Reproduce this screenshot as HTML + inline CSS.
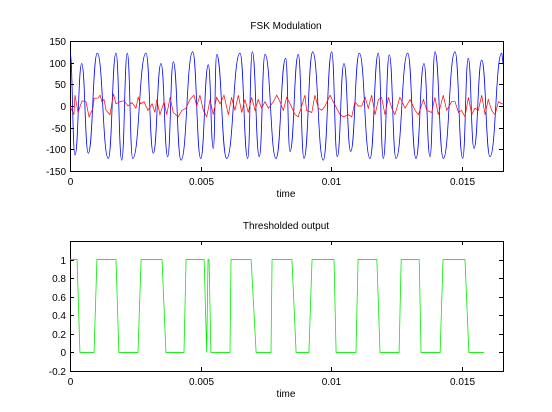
<!DOCTYPE html>
<html><head><meta charset="utf-8"><style>
body{margin:0;background:#fff}
svg{display:block;font-family:"Liberation Sans",sans-serif;font-size:10px}
</style></head><body>
<svg id="c" width="552" height="412"></svg>
<script>
// Top chart data (time in ms)
const blueT=[0,0.191,0.448,0.700,1.044,1.465,1.760,1.978,2.192,2.399,2.907,3.187,3.481,3.738,3.952,4.247,4.694,5.000,5.291,5.482,5.612,5.994,6.503,6.798,6.974,7.242,7.460,7.881,8.252,8.416,8.734,8.952,9.285,9.690,10.011,10.226,10.482,10.738,11.067,11.477,11.794,11.986,12.215,12.471,12.919,13.236,13.542,13.772,13.963,14.281,14.729,15.023,15.237,15.455,15.750,16.067,16.515,16.565];
const blueV=[125,-113,98,-109,122,-121,122,-125,122,-121,122,-109,98,-117,102,-125,125,-121,95,-98,119,-121,122,-121,125,-117,119,-121,110,-105,119,-121,125,-125,125,-117,98,-105,122,-121,122,-121,118,-121,122,-121,98,-117,125,-121,125,-121,110,-98,106,-117,122,100];
const redT=[0,.15,.19,.31,.46,.61,.73,.88,.92,1.07,1.15,1.22,1.30,1.38,1.53,1.66,1.76,1.91,2.07,2.22,2.37,2.52,2.61,2.70,2.83,2.98,3.14,3.25,3.32,3.44,3.60,3.70,3.83,3.95,4.14,4.28,4.44,4.59,4.74,4.85,4.97,5.10,5.23,5.36,5.48,5.61,5.74,5.89,6.06,6.18,6.31,6.44,6.57,6.69,6.82,6.95,7.08,7.20,7.33,7.46,7.59,7.78,7.91,8.03,8.16,8.29,8.42,8.61,8.73,8.86,8.99,9.05,9.25,9.37,9.50,9.63,9.76,9.95,10.07,10.20,10.33,10.46,10.65,10.78,10.90,11.03,11.16,11.29,11.41,11.54,11.67,11.80,11.92,12.05,12.18,12.31,12.43,12.62,12.82,13.01,13.20,13.33,13.52,13.65,13.84,13.96,14.09,14.28,14.41,14.60,14.73,14.86,14.98,15.11,15.24,15.37,15.49,15.62,15.75,15.88,16.00,16.13,16.26,16.39,16.51,16.58];
const redV=[0,-20,25,-15,12,10,-25,-5,18,18,25,10,15,-10,-20,28,5,10,12,0,8,-5,20,5,10,-10,5,-15,15,-20,10,-20,20,-15,-25,-10,-5,15,25,0,25,-10,-25,15,-20,20,5,25,-20,20,-10,25,-15,15,-15,20,-10,15,-5,10,-5,10,25,10,-10,20,5,-20,-25,0,25,-10,-15,25,-5,-10,0,25,10,-5,-20,-25,-20,-25,10,0,0,20,-5,25,-20,15,20,-20,20,-5,-20,20,-5,15,-10,-20,15,-10,-15,20,-20,25,-10,10,10,-15,-10,-25,20,-20,-5,-10,25,-20,15,-10,-20,10,5,5];
const topYTicks=[-150,-100,-50,0,50,100,150];
const xTicks=[0,5,10,15];
const xTickLabels=["0","0.005","0.01","0.015"];
// Bottom chart data
const thrT=[0,.27,.38,.92,1.03,1.76,1.87,2.60,2.72,3.52,3.67,4.36,4.44,5.13,5.23,5.28,5.32,5.39,6.12,6.16,6.93,7.12,7.69,7.73,8.49,8.65,9.14,9.26,10.10,10.18,10.94,11.02,11.74,11.86,12.59,12.67,13.36,13.43,14.16,14.27,15.11,15.26,15.84];
const thrV=[1,1,0,0,1,1,0,0,1,1,0,0,1,1,0,1,1,0,0,1,1,0,0,1,1,0,0,1,1,0,0,1,1,0,0,1,1,0,0,1,1,0,0];
const botYTicks=[-0.2,0,0.2,0.4,0.6,0.8,1];
const botYLabels=["-0.2","0","0.2","0.4","0.6","0.8","1"];

const NS="http://www.w3.org/2000/svg";
const svg=document.getElementById('c');
function mk(tag,attrs,parent){const e=document.createElementNS(NS,tag);for(const k in attrs)e.setAttribute(k,attrs[k]);(parent||svg).appendChild(e);return e;}
const X0=70,X1=503,XMAX=16.565;
const sx=t=>X0+t/XMAX*(X1-X0);
function axes(top,bot,ymin,ymax,yt,yl,name,title){
  const sy=v=>bot-(v-ymin)/(ymax-ymin)*(bot-top);
  const g=mk('g',{});
  
  
  const fr=mk('rect',{x:X0+.5,y:top+.5,width:X1-X0,height:bot-top,fill:'none',stroke:'#000','stroke-width':1},g);
  
  
  yt.forEach((v,i)=>{const y=Math.round(sy(v))+.5;
    mk('line',{x1:X0,x2:X0+4,y1:y,y2:y,stroke:'#000'},g);
    mk('line',{x1:X1-4,x2:X1,y1:y,y2:y,stroke:'#000'},g);
    const t=mk('text',{x:X0-4,y:y+3.5,'text-anchor':'end'},g);t.textContent=yl[i];
    
    });
  xTicks.forEach((v,i)=>{const x=Math.round(sx(v))+.5;
    mk('line',{x1:x,x2:x,y1:bot,y2:bot-4,stroke:'#000'},g);
    mk('line',{x1:x,x2:x,y1:top,y2:top+4,stroke:'#000'},g);
    const t=mk('text',{x:x,y:bot+14,'text-anchor':'middle'},g);t.textContent=xTickLabels[i];
    
    });
  const xl=mk('text',{x:286,y:bot+26,'text-anchor':'middle'},g);xl.textContent='time';
  
  
  const tt=mk('text',{x:286,y:top-12,'text-anchor':'middle'},g);tt.textContent=title;
  
  
  return sy;
}
const sy1=axes(41,171,-150,150,topYTicks,topYTicks.map(String),'top','FSK Modulation');
// blue smooth curve through extrema
let d='M'+sx(blueT[0])+','+sy1(blueV[0]);
for(let i=1;i<blueT.length;i++){const xa=sx(blueT[i-1]),xb=sx(blueT[i]),ya=sy1(blueV[i-1]),yb=sy1(blueV[i]);const m=(xa+xb)/2;
  d+=' C'+m+','+ya+' '+m+','+yb+' '+xb+','+yb;}
const bl=mk('path',{d:d,fill:'none',stroke:'#0000ff','stroke-width':0.8});


const rl=mk('polyline',{points:redT.map((t,i)=>sx(t)+','+sy1(redV[i])).join(' '),fill:'none',stroke:'#ff0000','stroke-width':0.7});


const sy2=axes(241,371,-0.2,1.2,botYTicks,botYLabels,'bottom','Thresholded output');
const gl=mk('polyline',{points:thrT.map((t,i)=>sx(t)+','+sy2(thrV[i])).join(' '),fill:'none',stroke:'#00ee00','stroke-width':0.8});


</script>
</body></html>
